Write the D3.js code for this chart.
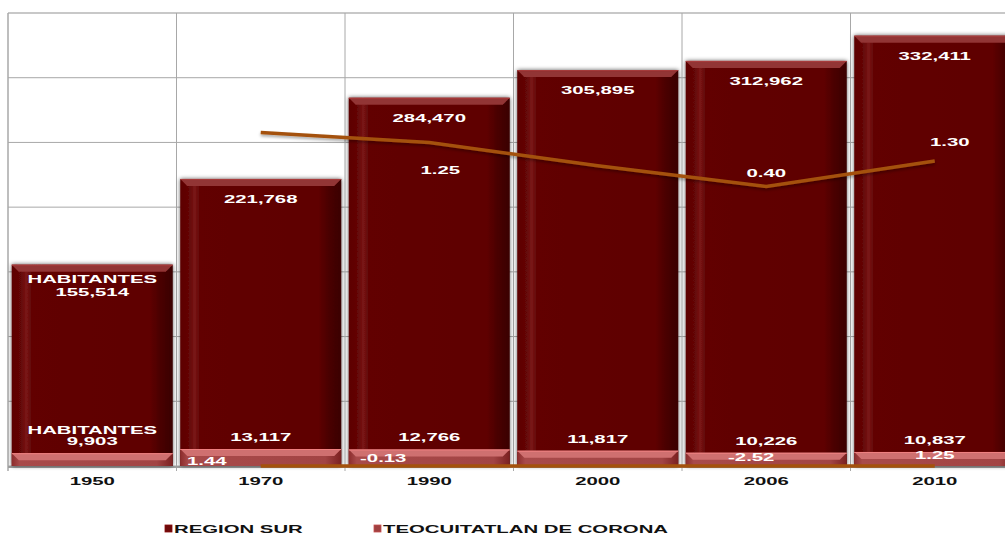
<!DOCTYPE html>
<html><head><meta charset="utf-8">
<script src="https://cdn.jsdelivr.net/npm/d3@7"></script>
<style>body{margin:0;background:#fff;overflow:hidden}svg{display:block}</style>
</head><body><svg id="c" width="1005" height="535"></svg>
<script>
// ---------- data ----------
const years = ["1950","1970","1990","2000","2006","2010"];
const regionSur = [155514,221768,284470,305895,312962,332411];
const teocuitatlan = [9903,13117,12766,11817,10226,10837];
const regionRate = [null,1.44,1.25,0.80,0.40,0.89];
const regionRateLabels = ["","","1.25","","0.40","1.30"];
const teocRate = [null,1.44,-0.13,-1.00,-2.52,1.25];
const teocRateLabels = ["","1.44","-0.13","","-2.52","1.25"];
const yTicks = [0,50000,100000,150000,200000,250000,300000,350000];
const seriesNames = ["REGION SUR","TEOCUITATLAN DE CORONA"];

// ---------- layout / style ----------
const STRETCH = 1.85, FS = 11;
const regionLabelOff = [[11,32],[0,0],[11,32],[0,0],[0,-9],[15,-15]];
const teocLabelOff = [[0,0],[-54,-1],[-46,-4],[0,0],[-15,-5],[0,-7]];

const svg = d3.select("#c");
const x = d3.scaleBand().domain(years).range([8,1019]).paddingInner(0.0445).paddingOuter(0.02225);
const y = d3.scaleLinear().domain([0,350000]).range([466,13]);
const y2 = d3.scaleLinear().domain([-5,3.75]).range([466,13]);
const step = x.step(), gap = step*x.paddingInner();

const defs = svg.append("defs");
function hGrad(id, stops){
  const g = defs.append("linearGradient").attr("id",id).attr("x1","0").attr("x2","1").attr("y1","0").attr("y2","0");
  stops.forEach(s=>g.append("stop").attr("offset",s[0]).attr("stop-color",s[1]));
}
hGrad("gBig",[[0,"#5c0303"],[0.06,"#650707"],[0.09,"#7a1616"],[0.12,"#620505"],[0.86,"#5e0404"],[0.93,"#480101"],[1,"#3a0000"]]);
hGrad("gSmall",[[0,"#8c2c2c"],[0.05,"#a84a4a"],[0.9,"#a24444"],[1,"#7a2020"]]);
const f = defs.append("filter").attr("id","sh").attr("x","-10%").attr("y","-10%").attr("width","120%").attr("height","120%");
f.append("feDropShadow").attr("dx",0).attr("dy",0).attr("stdDeviation",2).attr("flood-color","#000").attr("flood-opacity",0.65);
const fl = defs.append("filter").attr("id","lsh").attr("x","-5%").attr("y","-50%").attr("width","110%").attr("height","200%");
fl.append("feDropShadow").attr("dx",0).attr("dy",2).attr("stdDeviation",1.5).attr("flood-color","#000").attr("flood-opacity",0.35);

// grid
const grid = svg.append("g");
grid.selectAll("line.h").data(yTicks).join("line")
  .attr("x1",8).attr("x2",1019).attr("y1",d=>y(d)).attr("y2",d=>y(d))
  .attr("stroke",d=>d===350000?"#c8c8c8":"#a8a8a8").attr("stroke-width",d=>d===350000?2:1);
grid.selectAll("line.v").data(years).join("line")
  .attr("x1",d=>x(d)-gap/2).attr("x2",d=>x(d)-gap/2).attr("y1",y(350000)).attr("y2",471)
  .attr("stroke","#a8a8a8").attr("stroke-width",d=>d===years[0]?1.5:1);
svg.append("line").attr("x1",8).attr("x2",1019).attr("y1",467).attr("y2",467).attr("stroke","#a0a0a0").attr("stroke-width",2);

// bars
function bevelBar(g, x0, w, yt, yb, fillId, bevelCol, b){
  g.append("rect").attr("x",x0).attr("y",yt).attr("width",w).attr("height",yb-yt).attr("fill",`url(#${fillId})`);
  g.append("polygon").attr("points",[[x0,yt],[x0+w,yt],[x0+w-b,yt+b],[x0+b,yt+b]].map(p=>p.join(",")).join(" "))
    .attr("fill",bevelCol);
  g.append("line").attr("x1",x0).attr("x2",x0+w).attr("y1",yt+0.5).attr("y2",yt+0.5).attr("stroke",d3.color(bevelCol).brighter(0.4)).attr("stroke-width",1);
}
const bars = svg.append("g").attr("filter","url(#sh)");
years.forEach((yr,i)=>{
  const g = bars.append("g");
  bevelBar(g, x(yr), x.bandwidth(), y(regionSur[i]), y(0), "gBig", "#923434", 7);
});
const small = svg.append("g");
years.forEach((yr,i)=>{
  const g = small.append("g");
  bevelBar(g, x(yr), x.bandwidth(), y(teocuitatlan[i]), y(0), "gSmall", "#cf7070", 7);
});

// lines
const cx = d=>x(d)+x.bandwidth()/2;
const lineR = d3.line().defined(d=>d[1]!=null).x(d=>cx(d[0])).y(d=>y2(d[1]));
svg.append("path").datum(years.map((d,i)=>[d,regionRate[i]])).attr("d",lineR)
  .attr("fill","none").attr("stroke","#a4510c").attr("stroke-width",3.5).attr("filter","url(#lsh)");
const lineT = d3.line().defined(d=>d[1]!=null).x(d=>cx(d[0])).y(d=>y(d[1]));
svg.append("path").datum(years.map((d,i)=>[d,teocRate[i]])).attr("d",lineT)
  .attr("fill","none").attr("stroke","#a4510c").attr("stroke-width",3.5);

// text helper
function txt(xp, yp, s, col, anchor){
  svg.append("text").attr("transform",`translate(${xp},${yp}) scale(${STRETCH},1)`)
    .attr("text-anchor",anchor||"middle").attr("font-family","'Liberation Sans', Arial, sans-serif")
    .attr("font-weight","bold").attr("font-size",FS).attr("fill",col).text(s);
}
const fmt = d3.format(",");
// region sur labels
years.forEach((yr,i)=>{
  const t = y(regionSur[i]);
  if(i===0){ txt(cx(yr), t+18, "HABITANTES", "#fff"); txt(cx(yr), t+31, fmt(regionSur[i]), "#fff"); }
  else txt(cx(yr), t+24, fmt(regionSur[i]), "#fff");
});
// teocuitatlan labels
years.forEach((yr,i)=>{
  const t = y(teocuitatlan[i]);
  if(i===0){ txt(cx(yr), t-19, "HABITANTES", "#fff"); txt(cx(yr), t-8, fmt(teocuitatlan[i]), "#fff"); }
  else txt(cx(yr), t-8, fmt(teocuitatlan[i]), "#fff");
});
// rate labels
years.forEach((yr,i)=>{
  if(regionRateLabels[i]) txt(cx(yr)+regionLabelOff[i][0], y2(regionRate[i])+regionLabelOff[i][1], regionRateLabels[i], "#fff");
  if(teocRateLabels[i]) txt(cx(yr)+teocLabelOff[i][0], y(0)+teocLabelOff[i][1], teocRateLabels[i], "#fff");
});
// axis labels
years.forEach(yr=>txt(cx(yr), 485, yr, "#111"));

// legend
const legX = [165, 374], legCol = ["#6e0a0a","#a04040"];
seriesNames.forEach((n,i)=>{
  svg.append("rect").attr("x",legX[i]).attr("y",525).attr("width",7).attr("height",7).attr("fill",legCol[i])
    .attr("stroke",d3.color(legCol[i]).brighter(0.6)).attr("stroke-width",0.8);
  txt(legX[i]+9, 533, n, "#111", "start");
});
</script></body></html>
